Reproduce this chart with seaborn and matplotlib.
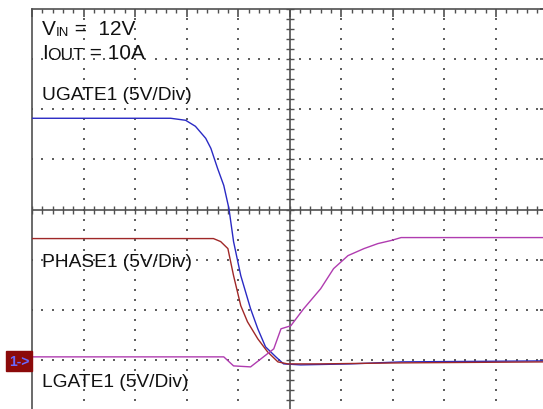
import numpy as np
import pandas as pd
import matplotlib
matplotlib.use("Agg")
import matplotlib.pyplot as plt
from matplotlib.patches import Rectangle
import seaborn as sns

# traces, in scope divisions (time div, volts div)
ugate_t = [-5.0, -2.31, -2.02, -1.83, -1.63, -1.53, -1.40, -1.28, -1.18, -1.09, -0.95,
           -0.76, -0.62, -0.47, -0.27, -0.12, 0.21, 1.18, 2.16, 5.0]
ugate_v = [1.82, 1.82, 1.78, 1.66, 1.42, 1.22, 0.82, 0.48, 0.02, -0.64, -1.32,
           -1.98, -2.38, -2.74, -2.94, -3.08, -3.10, -3.08, -3.04, -3.02]

phase_t = [-5.0, -1.48, -1.34, -1.20, -1.09, -0.95, -0.82, -0.62, -0.43, -0.23, -0.04,
           0.60, 2.16, 5.0]
phase_v = [-0.58, -0.58, -0.64, -0.78, -1.32, -1.92, -2.24, -2.58, -2.84, -3.04, -3.08,
           -3.08, -3.06, -3.04]

lgate_t = [-5.0, -1.28, -1.09, -0.76, -0.56, -0.31, -0.17, 0.02, 0.27, 0.60, 0.85,
           1.13, 1.44, 1.71, 1.96, 2.16, 5.0]
lgate_v = [-2.94, -2.94, -3.12, -3.14, -2.98, -2.78, -2.38, -2.32, -1.98, -1.58, -1.18,
           -0.92, -0.78, -0.68, -0.62, -0.56, -0.56]

labels = ["UGATE1 (5V/Div)", "PHASE1 (5V/Div)", "LGATE1 (5V/Div)"]
label_y = [2.206, -1.128, -3.523]
colors = ["#2a2ac4", "#a02828", "#b03cb0"]

sns.set_style("white")
plt.rcParams["font.family"] = ["Liberation Sans", "DejaVu Sans"]

fig = plt.figure(figsize=(5.43, 4.10), dpi=100)
W, H = 543.0, 410.0
ax = fig.add_axes([32 / W, (H - 411) / H, 515.5 / W, 401 / H])
ax.set_xlim(-5, 5)
ax.set_ylim(-4, 4)

gc = "#505050"
for s in ax.spines.values():
    s.set_color(gc)
    s.set_linewidth(1.2)

ax.set_xticks(np.arange(-5, 6, 1))
ax.set_yticks(np.arange(-4, 5, 1))
ax.set_xticks(np.arange(-5, 5.01, 0.2), minor=True)
ax.set_yticks(np.arange(-4, 4.01, 0.2), minor=True)
ax.tick_params(which="both", direction="in", top=True, right=True,
               labelbottom=False, labelleft=False, color=gc)
ax.tick_params(which="major", length=6, width=1.2)
ax.tick_params(which="minor", length=3, width=1)

# dotted graticule
fine_x = np.round(np.arange(-5, 5.01, 0.2), 2)
fine_y = np.round(np.arange(-4, 4.01, 0.2), 2)
dx, dy = [], []
for k in range(-4, 5):
    if k == 0:
        continue
    for v in fine_y:
        dx.append(k); dy.append(v)
for k in range(-3, 4):
    if k == 0:
        continue
    for u in fine_x:
        dx.append(u); dy.append(k)
ax.scatter(dx, dy, s=1.2, marker="s", color="#606060", linewidths=0, zorder=1)

# centre crosshair
ax.axhline(0, color=gc, lw=1.2, zorder=1)
ax.axvline(0, color=gc, lw=1.2, zorder=1)
ax.plot(fine_x, np.zeros_like(fine_x), ls="", marker="|", ms=6, mew=1, color=gc, zorder=1)
ax.plot(np.zeros_like(fine_y), fine_y, ls="", marker="_", ms=6, mew=1, color=gc, zorder=1)

# traces
for t, v, c in [(ugate_t, ugate_v, colors[0]), (phase_t, phase_v, colors[1]),
                (lgate_t, lgate_v, colors[2])]:
    df = pd.DataFrame({"t": t, "v": v})
    sns.lineplot(data=df, x="t", y="v", ax=ax, color=c, lw=1.0, sort=False,
                 estimator=None, zorder=3)
ax.set_xlabel("")
ax.set_ylabel("")

fs = 15
tc = "#111111"
tx = -4.81
t1 = ax.text(tx, 3.503, "V", fontsize=fs, va="baseline", color=tc)
t2 = ax.annotate("IN", xy=(1, 0), xycoords=t1, va="bottom", fontsize=9.5, color=tc)
ax.annotate(" =  12V", xy=(1, 0), xycoords=t2, va="bottom", fontsize=fs, color=tc)
t4 = ax.text(tx, 3.024, "I", fontsize=fs, va="baseline", color=tc)
t5 = ax.annotate("OUT", xy=(1, 0), xycoords=t4, va="bottom", fontsize=12.5, color=tc)
ax.annotate(" = 10A", xy=(1, 0), xycoords=t5, va="bottom", fontsize=fs, color=tc)
for lab, ly in zip(labels, label_y):
    ax.text(tx, ly, lab, fontsize=13.8, va="baseline", color=tc)

# channel ground marker
fig.add_artist(Rectangle((6 / W, (H - 372) / H), 26 / W, 20 / H,
                         transform=fig.transFigure, color="#8b0a0a", zorder=5))
fig.text(19 / W, (H - 362) / H, "1->", fontsize=10, color="#6a6aff",
         ha="center", va="center", fontweight="bold", zorder=6)

fig.savefig("out.png", dpi=100)
